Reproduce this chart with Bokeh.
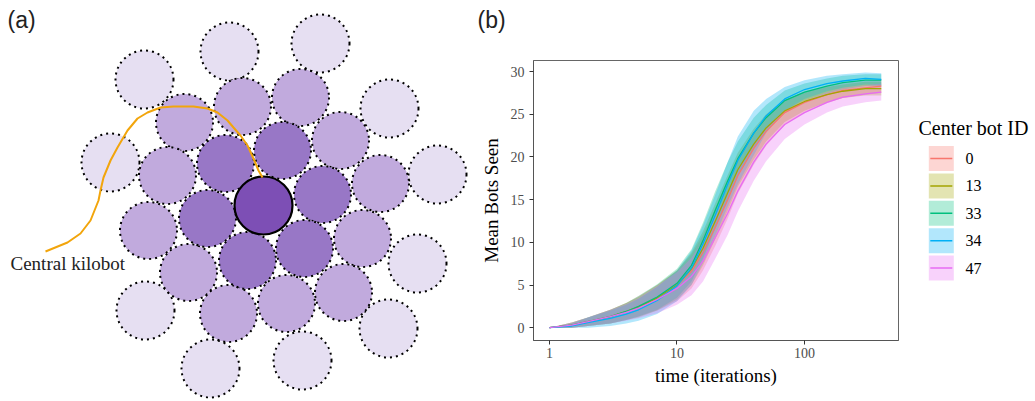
from bokeh.plotting import figure
from bokeh.layouts import row, column
from bokeh.models import Range1d, FixedTicker, PrintfTickFormatter
from bokeh.embed import file_html
from bokeh.resources import INLINE
from bokeh.core.properties import value

# ---------------- Panel (a): kilobot arrangement (diagram units) ----------------
center_x = [263]
center_y = [205]
inner_x = [282, 225, 322, 207, 304, 247]
inner_y = [150, 163, 194, 218, 248, 260]
mid_x = [242, 300, 184, 340, 167, 380, 148, 362, 188, 343, 228, 286]
mid_y = [106, 97, 122, 140, 175, 183, 230, 238, 272, 292, 313, 303]
outer_x = [229, 320, 144, 389, 110, 437, 417, 145, 388, 210, 302]
outer_y = [51, 43, 79, 108, 162, 174, 263, 310, 328, 368, 360]
pointer_x = [45, 67, 80, 90, 98, 100, 103, 110, 117, 127, 137, 147, 160, 173,
             193, 207, 217, 227, 233, 240, 247, 253, 258, 262]
pointer_y = [251, 242, 233, 220, 200, 190, 177, 160, 147, 130, 118, 112, 107, 106,
             106, 108, 112, 120, 127, 135, 145, 158, 170, 177]
annot_text = ["Central kilobot"]

# ---------------- Panel (b): mean bots seen vs time ----------------
t = [1, 1.5, 2, 3, 4, 5, 7, 10, 13, 16, 20, 25, 30, 40, 50, 70, 100, 150, 200, 300, 400]

ids = ["0", "13", "33", "34", "47"]
mean_0 = [0, 0.3, 0.7, 1.3, 1.9, 2.5, 3.5, 4.9, 6.6, 8.8, 11.8, 15.0, 17.8, 21.0, 23.0, 25.2, 26.4, 27.3, 27.8, 28.1, 28.3]
mean_13 = [0, 0.3, 0.7, 1.3, 1.9, 2.4, 3.5, 5.0, 6.9, 9.3, 12.5, 15.8, 18.5, 21.5, 23.4, 25.4, 26.5, 27.3, 27.7, 28.0, 28.0]
mean_33 = [0, 0.3, 0.7, 1.3, 1.9, 2.5, 3.6, 5.2, 7.3, 10.2, 13.8, 17.2, 19.8, 22.8, 24.6, 26.6, 27.6, 28.3, 28.7, 29.0, 29.0]
mean_34 = [0, 0.2, 0.6, 1.1, 1.6, 2.1, 3.2, 4.9, 7.0, 9.8, 13.2, 16.8, 19.6, 22.8, 24.8, 26.8, 27.9, 28.6, 28.9, 29.2, 29.1]
mean_47 = [0, 0.3, 0.7, 1.3, 1.8, 2.3, 3.3, 4.6, 6.0, 7.8, 10.6, 13.4, 16.0, 19.4, 21.5, 23.8, 25.2, 26.4, 27.0, 27.4, 27.6]

sd_0 = [0, 0.3, 0.5, 0.8, 1.0, 1.2, 1.5, 1.8, 2.0, 2.1, 2.2, 2.2, 2.1, 1.9, 1.7, 1.4, 1.2, 1.0, 0.9, 0.8, 0.8]
sd_13 = [0, 0.3, 0.5, 0.8, 1.0, 1.2, 1.5, 1.7, 1.9, 2.0, 2.1, 2.1, 2.0, 1.8, 1.6, 1.3, 1.1, 0.9, 0.8, 0.8, 0.8]
sd_33 = [0, 0.3, 0.5, 0.8, 1.0, 1.2, 1.5, 1.7, 1.9, 2.1, 2.2, 2.2, 2.0, 1.8, 1.5, 1.2, 1.0, 0.9, 0.8, 0.7, 0.7]
sd_34 = [0, 0.3, 0.6, 0.9, 1.1, 1.3, 1.6, 1.8, 2.0, 2.2, 2.4, 2.6, 2.8, 2.6, 2.0, 1.4, 1.1, 0.9, 0.8, 0.7, 0.7]
sd_47 = [0, 0.3, 0.5, 0.8, 1.0, 1.2, 1.6, 1.9, 2.2, 2.4, 2.5, 2.5, 2.4, 2.2, 2.0, 1.7, 1.4, 1.2, 1.1, 1.0, 1.0]

colors = ["#F8766D", "#A3A500", "#00BF7D", "#00B0F6", "#E76BF3"]
means = [mean_0, mean_13, mean_33, mean_34, mean_47]
sds = [sd_0, sd_13, sd_33, sd_34, sd_47]

x_ticks = [1, 10, 100]
y_ticks = [0, 5, 10, 15, 20, 25, 30]
legend_title = "Center bot ID"

SERIF = "Liberation Serif"
SANS = "Liberation Sans"


def blank(width, height):
    f = figure(width=width, height=height, x_range=Range1d(0, width),
               y_range=Range1d(height, 0), x_axis_type=None, y_axis_type=None,
               output_backend="svg", toolbar_location=None, min_border=0)
    f.frame_align = False
    f.grid.visible = False
    f.outline_line_color = None
    f.background_fill_color = "white"
    f.border_fill_color = "white"
    return f


# ---------- figure (a) ----------
pa = blank(470, 401)
dot_style = dict(line_color="black", line_width=2, line_dash="2 4")
pa.circle(x=outer_x, y=outer_y, radius=29, fill_color="#e6dff2", **dot_style)
pa.circle(x=mid_x, y=mid_y, radius=28.5, fill_color="#c1aadd", **dot_style)
pa.circle(x=inner_x, y=inner_y, radius=28.5, fill_color="#9877c6", **dot_style)
pa.circle(x=center_x, y=center_y, radius=29, fill_color="#7d4fb5",
          line_color="black", line_width=2.2)
pa.line(x=pointer_x, y=pointer_y, line_color="#f2a50c", line_width=2)
pa.text(x=[10], y=[263], text=annot_text, text_font=value(SERIF),
        text_font_size="19px", text_baseline="middle", text_align="left",
        text_color="#222222")
pa.text(x=[7], y=[19], text=["(a)"], text_font=value(SANS), text_font_size="23px",
        text_baseline="middle", text_align="left", text_color="#222222")

# ---------- panel (b) tag ----------
ptop = blank(430, 40)
ptop.text(x=[7], y=[19], text=["(b)"], text_font=value(SANS), text_font_size="23px",
          text_baseline="middle", text_align="left", text_color="#222222")

# ---------- figure (b) ----------
pb = figure(width=430, height=361, x_axis_type="log",
            x_range=Range1d(0.75, 546), y_range=Range1d(-1.5, 31.3),
            output_backend="svg", toolbar_location=None,
            min_border_left=63, min_border_right=2, min_border_top=20, min_border_bottom=61)
pb.frame_align = False
pb.grid.visible = False
pb.outline_line_color = "#666666"
pb.outline_line_width = 1
pb.background_fill_color = "white"
pb.border_fill_color = "white"

for m, s, c in zip(means, sds, colors):
    lo = [max(a - b, 0) for a, b in zip(m, s)]
    hi = [a + b for a, b in zip(m, s)]
    pb.varea(x=t, y1=lo, y2=hi, fill_color=c, fill_alpha=0.3)
for m, c in zip(means, colors):
    pb.line(x=t, y=m, line_color=c, line_width=1.3)

pb.xaxis.ticker = FixedTicker(ticks=x_ticks)
pb.xaxis.formatter = PrintfTickFormatter(format="%d")
pb.yaxis.ticker = FixedTicker(ticks=y_ticks)
for ax in (pb.xaxis[0], pb.yaxis[0]):
    ax.axis_line_color = "#555555"
    ax.major_tick_line_color = "#333333"
    ax.major_tick_out = 4
    ax.major_tick_in = 0
    ax.minor_tick_line_color = None
    ax.major_label_text_font = SERIF
    ax.major_label_text_font_size = "14px"
    ax.major_label_text_color = "#4d4d4d"
    ax.axis_label_text_font = SERIF
    ax.axis_label_text_font_size = "19px"
    ax.axis_label_text_font_style = "normal"
    ax.axis_label_text_color = "black"
pb.xaxis.axis_label = "time (iterations)"
pb.yaxis.axis_label = "Mean Bots Seen"
pb.xaxis.major_label_standoff = 3
pb.yaxis.major_label_standoff = 5
pb.xaxis.axis_label_standoff = 4
pb.yaxis.axis_label_standoff = 6

# ---------- legend panel ----------
pc = blank(135, 401)
n = len(ids)
key_cx = [40.8] * n
key_cy = [158 + 27.4 * i for i in range(n)]
pc.text(x=[18], y=[127], text=[legend_title], text_font=value(SERIF),
        text_font_size="20px", text_baseline="middle", text_align="left",
        text_color="black")
pc.rect(x=key_cx, y=key_cy, width=25, height=25, fill_color=colors,
        fill_alpha=0.3, line_color=None)
pc.segment(x0=[cx - 11 for cx in key_cx], y0=key_cy,
           x1=[cx + 11 for cx in key_cx], y1=key_cy,
           line_color=colors, line_width=1.5)
pc.text(x=[65] * n, y=key_cy, text=ids, text_font=value(SERIF),
        text_font_size="16px", text_baseline="middle", text_align="left",
        text_color="black")

layout = row(pa, column(ptop, pb), pc)
open("out.html", "w").write(file_html(layout, INLINE))
